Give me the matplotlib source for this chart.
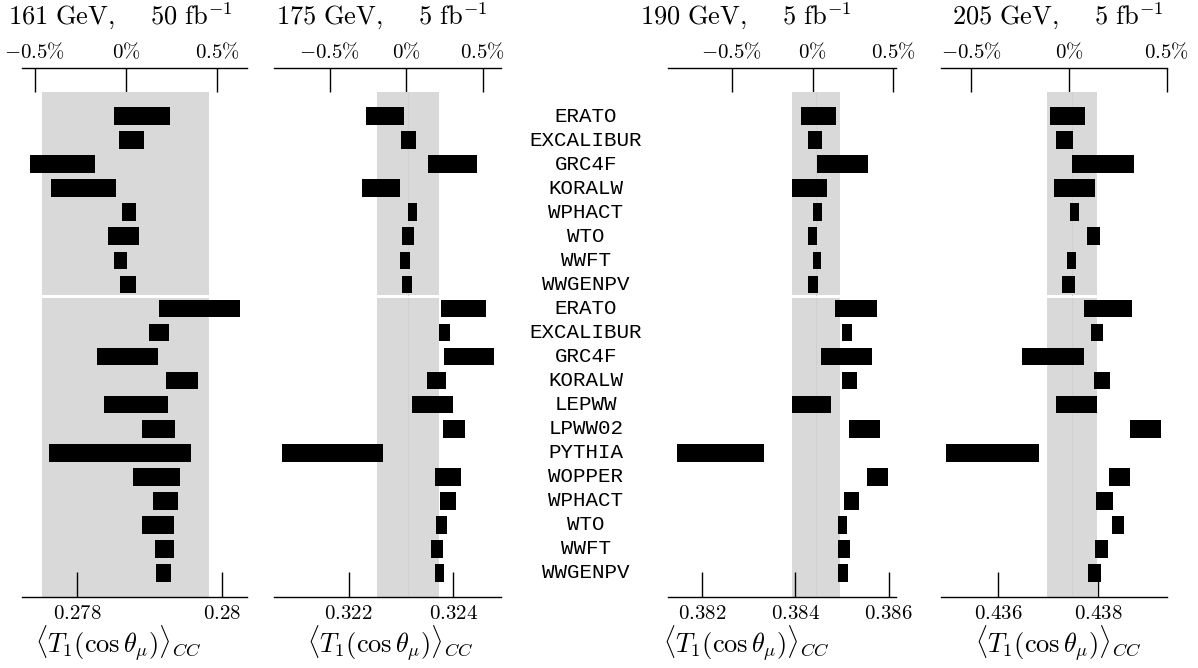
import matplotlib
matplotlib.use("Agg")
import matplotlib.pyplot as plt
import numpy as np

plt.rcParams['mathtext.fontset'] = 'cm'
plt.rcParams['font.family'] = ['DejaVu Serif']

# generator names, top group (8) then bottom group (12)
programs = ["ERATO", "EXCALIBUR", "GRC4F", "KORALW", "WPHACT", "WTO", "WWFT", "WWGENPV",
            "ERATO", "EXCALIBUR", "GRC4F", "KORALW", "LEPWW", "LPWW02", "PYTHIA",
            "WOPPER", "WPHACT", "WTO", "WWFT", "WWGENPV"]

titles = [r"$161\ \mathrm{GeV},\quad\ 50\ \mathrm{fb}^{-1}$",
          r"$175\ \mathrm{GeV},\quad\ 5\ \mathrm{fb}^{-1}$",
          r"$190\ \mathrm{GeV},\quad\ 5\ \mathrm{fb}^{-1}$",
          r"$205\ \mathrm{GeV},\quad\ 5\ \mathrm{fb}^{-1}$"]

# bar extents (left, right) of <T1(cos theta_mu)>_CC per generator
lo_161 = [0.278511, 0.278585, 0.277350, 0.277636, 0.278618, 0.278433, 0.278511, 0.278598,
          0.279138, 0.278999, 0.278276, 0.279230, 0.278373, 0.278894, 0.277609,
          0.278770, 0.279046, 0.278894, 0.279078, 0.279092]
hi_161 = [0.279285, 0.278922, 0.278249, 0.278539, 0.278815, 0.278857, 0.278691, 0.278815,
          0.280253, 0.279272, 0.279120, 0.279672, 0.279258, 0.279350, 0.279580,
          0.279424, 0.279396, 0.279337, 0.279337, 0.279303]

lo_175 = [0.322331, 0.323000, 0.323522, 0.322254, 0.323140, 0.323019, 0.322987, 0.323019,
          0.323765, 0.323721, 0.323828, 0.323497, 0.323205, 0.323797, 0.320725,
          0.323650, 0.323746, 0.323663, 0.323574, 0.323650]
hi_175 = [0.323063, 0.323281, 0.324459, 0.322975, 0.323306, 0.323249, 0.323172, 0.323205,
          0.324625, 0.323937, 0.324772, 0.323860, 0.324000, 0.324218, 0.322656,
          0.324153, 0.324046, 0.323880, 0.323803, 0.323828]

lo_190 = [0.384121, 0.384282, 0.384457, 0.383923, 0.384391, 0.384282, 0.384377, 0.384274,
          0.384852, 0.384991, 0.384545, 0.384998, 0.383923, 0.385159, 0.381466,
          0.385532, 0.385049, 0.384925, 0.384925, 0.384910]
hi_190 = [0.384881, 0.384574, 0.385547, 0.384684, 0.384574, 0.384464, 0.384559, 0.384494,
          0.385744, 0.385210, 0.385642, 0.385320, 0.384757, 0.385824, 0.383338,
          0.385993, 0.385371, 0.385108, 0.385166, 0.385122]

lo_205 = [0.437049, 0.437167, 0.437479, 0.437125, 0.437431, 0.437785, 0.437389, 0.437285,
          0.437722, 0.437861, 0.436472, 0.437924, 0.437153, 0.438646, 0.434965,
          0.438215, 0.437951, 0.438285, 0.437938, 0.437792]
hi_205 = [0.437736, 0.437493, 0.438729, 0.437938, 0.437625, 0.438042, 0.437569, 0.437549,
          0.438674, 0.438104, 0.437729, 0.438243, 0.437986, 0.439264, 0.436826,
          0.438639, 0.438299, 0.438528, 0.438194, 0.438063]

# grey reference band (left, centre, right)
band_lo = [0.277516, 0.322541, 0.383923, 0.436979]
band_mid = [0.278670, 0.323140, 0.384442, 0.437479]
band_hi = [0.279825, 0.323721, 0.384962, 0.437972]

# bottom axis
xlims = [(0.27724, 0.280357), (0.320572, 0.324912), (0.381279, 0.386156), (0.43486, 0.43938)]
xticks = [[0.278, 0.280], [0.322, 0.324], [0.382, 0.384, 0.386], [0.436, 0.438]]
xticklabels = [["0.278", "0.28"], ["0.322", "0.324"], ["0.382", "0.384", "0.386"], ["0.436", "0.438"]]

# top axis: value of 0% and value per 1%
pct_zero = [0.278677, 0.323096, 0.384370, 0.437420]
pct_step = [0.002525, 0.002925, 0.003457, 0.003900]

lows = [lo_161, lo_175, lo_190, lo_205]
highs = [hi_161, hi_175, hi_190, hi_205]

W, H = 1198, 668
fig = plt.figure(figsize=(W / 100, H / 100), dpi=100)

# axes boxes in pixels (left, right)
boxes = [(22, 247.5), (274, 501), (668, 896), (941, 1167)]
title_centres = [120, 382, 746, 1058]
label_centres = [118, 390, 746, 1058]
y_top, y_bot = 68, 597

rows = np.arange(len(programs))

for i in range(4):
    x0, x1 = boxes[i]
    ax = fig.add_axes([x0 / W, 1 - y_bot / H, (x1 - x0) / W, (y_bot - y_top) / H])
    ax.set_xlim(*xlims[i])
    ax.set_ylim(20, -2)

    # band, split between the two groups
    for ya, yb in [(-1, 7.44), (7.56, 20)]:
        ax.fill_betweenx([ya, yb], band_lo[i], band_hi[i], color='#d9d9d9', lw=0, zorder=1)
        if i > 0:
            ax.plot([band_mid[i], band_mid[i]], [ya, yb], color='#d0d0d0', lw=0.8, zorder=1)

    lo = np.array(lows[i])
    hi = np.array(highs[i])
    ax.barh(rows, hi - lo, left=lo, height=0.735, color='black', zorder=3)

    for s in ['left', 'right', 'top']:
        ax.spines[s].set_visible(False)
    ax.spines['bottom'].set_linewidth(1.0)
    ax.set_yticks([])
    ax.set_xticks(xticks[i])
    ax.set_xticklabels(["$" + t + "$" for t in xticklabels[i]], fontsize=15)
    ax.tick_params(axis='x', direction='in', length=18, width=1.0, pad=5, zorder=5)

    z, st = pct_zero[i], pct_step[i]
    sec = ax.secondary_xaxis('top', functions=(lambda v, z=z, st=st: (v - z) / st,
                                                lambda p, z=z, st=st: p * st + z))
    sec.set_xticks([-0.5, 0, 0.5])
    sec.set_xticklabels([r"$-0.5\%$", r"$0\%$", r"$0.5\%$"], fontsize=15)
    sec.tick_params(axis='x', direction='in', length=17, width=1.0, pad=4)
    sec.spines['top'].set_linewidth(1.0)

    fig.text(title_centres[i] / W, 1 - 16 / H, titles[i], fontsize=19, ha='center', va='center')
    fig.text(label_centres[i] / W, 1 - 644 / H, r"$\langle T_1(\cos\theta_\mu)\rangle_{CC}$",
             fontsize=19, ha='center', va='center')

# generator names in the middle column
lab_ax = fig.add_axes([540 / W, 1 - y_bot / H, 100 / W, (y_bot - y_top) / H])
lab_ax.set_xlim(540, 640)
lab_ax.set_ylim(20, -2)
lab_ax.axis('off')
for r, name in zip(rows, programs):
    lab_ax.text(586, r, name, fontsize=15, ha='center', va='center', family='Liberation Mono')

fig.savefig("out.png", dpi=100)
